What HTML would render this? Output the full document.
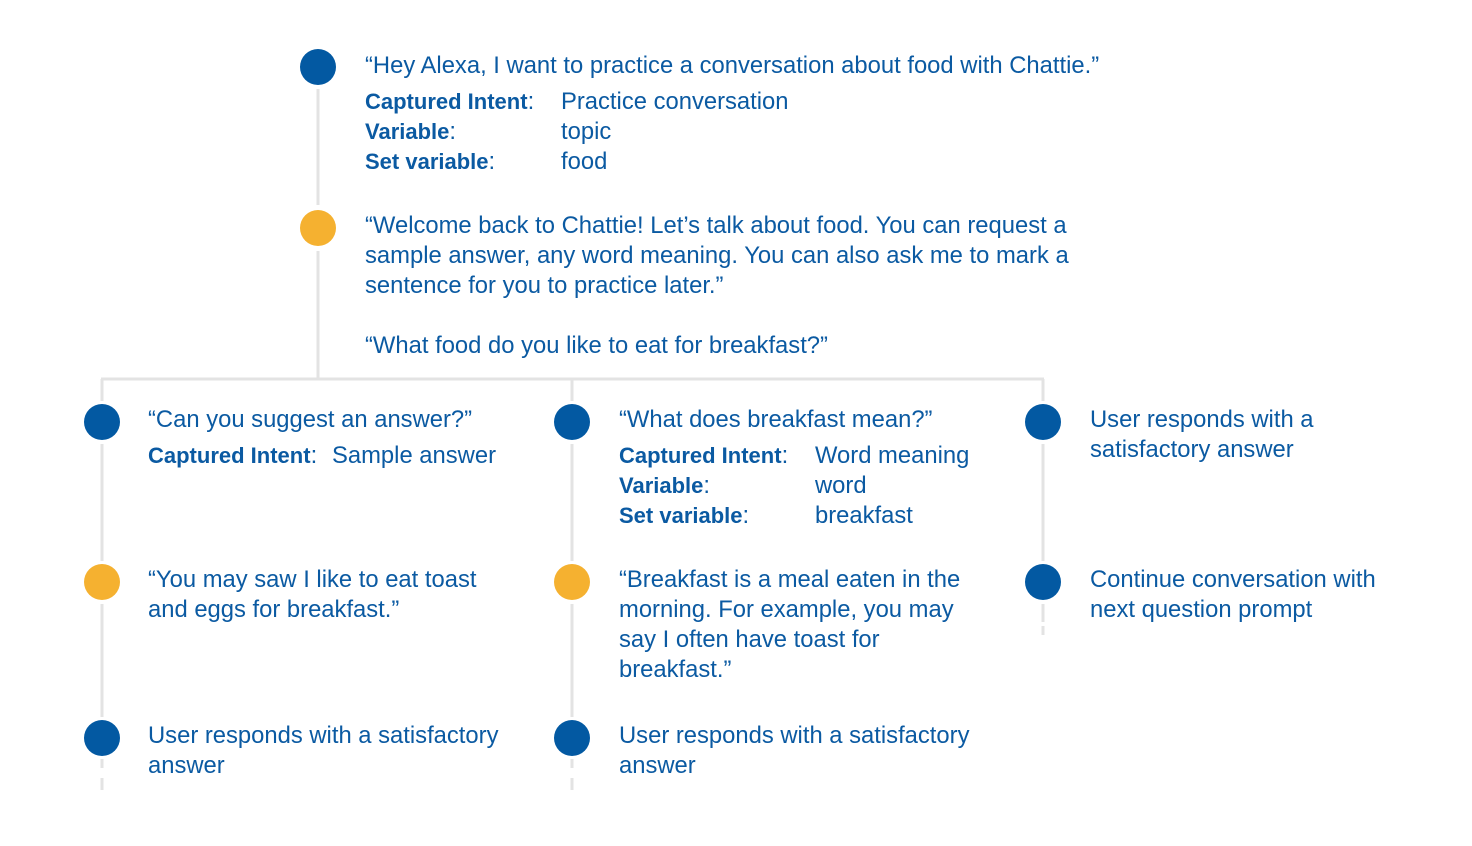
<!DOCTYPE html>
<html><head><meta charset="utf-8"><style>
html,body{margin:0;padding:0;background:#fff;}
svg{display:block;}
text{font-family:"Liberation Sans",Arial,sans-serif;font-size:23.8px;fill:#0b5aa2;}
.b{font-weight:bold;font-size:22px;}
</style></head><body>
<svg width="1472" height="846" viewBox="0 0 1472 846">
<g stroke="#e3e3e3" stroke-width="3" fill="none">
<line x1="318" y1="89" x2="318" y2="205"/>
<line x1="318" y1="251" x2="318" y2="379"/>
<line x1="101" y1="379" x2="1044" y2="379"/>
<line x1="102" y1="379" x2="102" y2="401"/>
<line x1="102" y1="444" x2="102" y2="561"/>
<line x1="102" y1="604" x2="102" y2="717"/>
<line x1="102" y1="759" x2="102" y2="768"/>
<line x1="102" y1="778" x2="102" y2="790"/>
<line x1="572" y1="379" x2="572" y2="401"/>
<line x1="572" y1="444" x2="572" y2="561"/>
<line x1="572" y1="604" x2="572" y2="717"/>
<line x1="572" y1="759" x2="572" y2="768"/>
<line x1="572" y1="778" x2="572" y2="790"/>
<line x1="1043" y1="379" x2="1043" y2="401"/>
<line x1="1043" y1="444" x2="1043" y2="561"/>
<line x1="1043" y1="604" x2="1043" y2="622"/>
<line x1="1043" y1="626" x2="1043" y2="635"/>
</g>
<g>
<circle cx="318" cy="67" r="18" fill="#0359a2"/>
<circle cx="318" cy="228" r="18" fill="#f5b130"/>
<circle cx="102" cy="422" r="18" fill="#0359a2"/>
<circle cx="102" cy="582" r="18" fill="#f5b130"/>
<circle cx="102" cy="738" r="18" fill="#0359a2"/>
<circle cx="572" cy="422" r="18" fill="#0359a2"/>
<circle cx="572" cy="582" r="18" fill="#f5b130"/>
<circle cx="572" cy="738" r="18" fill="#0359a2"/>
<circle cx="1043" cy="422" r="18" fill="#0359a2"/>
<circle cx="1043" cy="582" r="18" fill="#0359a2"/>
</g>
<g>
<text x="365" y="73">“Hey Alexa, I want to practice a conversation about food with Chattie.”</text>
<text x="365" y="109"><tspan class="b">Captured Intent</tspan>:</text><text x="561" y="109">Practice conversation</text>
<text x="365" y="139"><tspan class="b">Variable</tspan>:</text><text x="561" y="139">topic</text>
<text x="365" y="169"><tspan class="b">Set variable</tspan>:</text><text x="561" y="169">food</text>
<text x="365" y="233">“Welcome back to Chattie! Let’s talk about food. You can request a</text>
<text x="365" y="263">sample answer, any word meaning. You can also ask me to mark a</text>
<text x="365" y="293">sentence for you to practice later.”</text>
<text x="365" y="353">“What food do you like to eat for breakfast?”</text>
</g>
<g>
<text x="148" y="427">“Can you suggest an answer?”</text>
<text x="148" y="463"><tspan class="b">Captured Intent</tspan>:</text><text x="332" y="463">Sample answer</text>
<text x="148" y="587">“You may saw I like to eat toast</text>
<text x="148" y="617">and eggs for breakfast.”</text>
<text x="148" y="743">User responds with a satisfactory</text>
<text x="148" y="773">answer</text>
</g>
<g>
<text x="619" y="427">“What does breakfast mean?”</text>
<text x="619" y="463"><tspan class="b">Captured Intent</tspan>:</text><text x="815" y="463">Word meaning</text>
<text x="619" y="493"><tspan class="b">Variable</tspan>:</text><text x="815" y="493">word</text>
<text x="619" y="523"><tspan class="b">Set variable</tspan>:</text><text x="815" y="523">breakfast</text>
<text x="619" y="587">“Breakfast is a meal eaten in the</text>
<text x="619" y="617">morning. For example, you may</text>
<text x="619" y="647">say I often have toast for</text>
<text x="619" y="677">breakfast.”</text>
<text x="619" y="743">User responds with a satisfactory</text>
<text x="619" y="773">answer</text>
</g>
<g>
<text x="1090" y="427">User responds with a</text>
<text x="1090" y="457">satisfactory answer</text>
<text x="1090" y="587">Continue conversation with</text>
<text x="1090" y="617">next question prompt</text>
</g>
</svg>
</body></html>
